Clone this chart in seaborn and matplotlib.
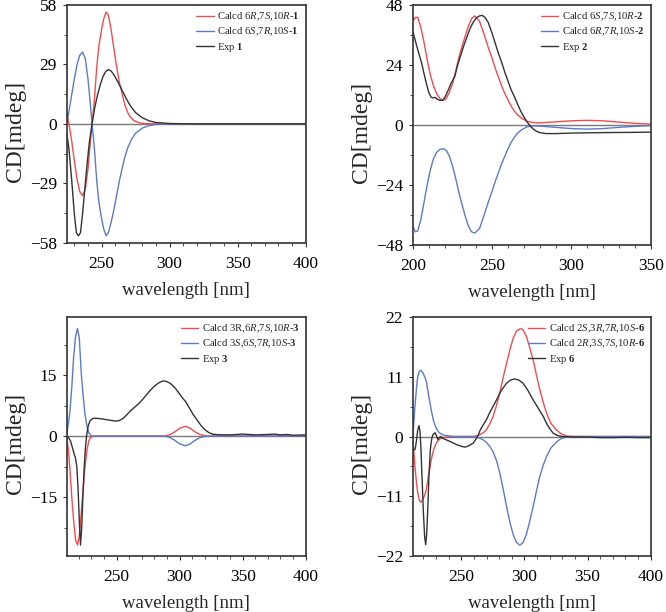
import matplotlib
matplotlib.use("Agg")
import matplotlib.pyplot as plt
import seaborn as sns
from matplotlib.ticker import MultipleLocator

# ---- panel 1 ----
p1_red_x = [224.3, 226, 228, 230, 232, 234, 236, 238, 240, 242, 243, 244.5, 246.5, 248, 250, 251.5, 253.3,
            255, 257, 259, 261, 263, 265, 267, 269, 271, 274, 278, 282, 300, 350, 400]
p1_red_y = [6, 0, -8, -18, -27, -33, -35, -32, -22, -7, 0, 10, 28, 38, 46, 51, 54.5,
            53, 46, 37, 28, 20.5, 15, 9.5, 5.8, 3.4, 1.5, 0.5, 0.1, 0, 0, 0]
p1_blue_x = [224.3, 226, 228, 230, 232, 234, 236, 238, 240, 242, 243, 244.5, 246.5, 248, 250, 251.5, 253.3,
             255, 257, 259, 261, 263, 265, 267, 269, 272, 275, 280, 285, 290, 300, 350, 400]
p1_blue_y = [0, 6, 14, 22, 29, 33.5, 35, 32, 22, 8, 0, -10, -28, -38, -46, -51, -54.5,
             -53, -48, -42, -35, -28, -22, -16.5, -12, -7.5, -4.5, -2, -0.8, -0.3, 0, 0, 0]
p1_exp_x = [224.3, 226, 228, 230, 231.5, 233, 234.5, 236, 237.5, 239, 241, 243, 245, 247, 249, 251, 253, 255,
            257, 259, 262, 265, 268, 271, 275, 280, 285, 290, 300, 320, 350, 400]
p1_exp_y = [-4, -12, -27, -44, -53, -54.5, -53, -44, -33, -22, -9, 0, 8, 14, 19, 23, 25.5, 26.5,
            25.8, 24, 20.5, 16.5, 12.5, 9, 5.5, 3, 1.5, 0.7, 0.2, 0, 0, 0]

# ---- panel 2 ----
p2_red_x = [200, 201.5, 203, 205, 207, 209, 211, 213, 215, 217, 219, 221, 223, 225, 227, 229, 231, 233, 235,
            237, 239, 242, 245, 247.5, 250, 252, 254, 256, 258, 260, 262, 264, 266, 268.5, 272, 276, 280,
            290, 300, 310, 320, 330, 340, 350]
p2_red_y = [41.5, 43, 43, 39, 33, 26, 20, 15.5, 12.5, 10.5, 9.7, 10.5, 13, 16.5, 21.5, 27, 31.5, 35.5, 39.5,
            42.5, 43.6, 41.5, 36, 31, 26.5, 22.5, 19, 15.5, 12.5, 10, 7.5, 5.5, 4, 2.7, 1.4, 0.9, 0.8,
            1.2, 1.6, 1.8, 1.6, 1.1, 0.6, 0.3]
p2_blue_x = [200, 201.5, 203, 205, 207, 209, 211, 213, 215, 217, 219.5, 221, 223, 225, 227, 229, 231, 233, 235,
             237, 239, 242, 245, 247.5, 250, 252, 254, 256, 258, 260, 262, 264, 266, 268.5, 272, 276, 280,
             290, 300, 310, 320, 330, 340, 350]
p2_blue_y = [-40.5, -42.8, -42.5, -38, -31, -24, -18, -13.5, -11, -9.8, -9.6, -10.2, -12.5, -16.5, -21.5, -27,
             -32, -36.5, -40.5, -42.8, -43.3, -41.5, -36, -31, -26.5, -22.5, -19, -15.5, -12.5, -9.5, -7, -5,
             -3.3, -2, -0.8, -0.4, -0.5, -1, -1.5, -1.7, -1.5, -1, -0.6, -0.3]
p2_exp_x = [200, 202, 204, 205.5, 207, 208.5, 210, 211.5, 213, 214, 215.5, 217, 218.5, 220, 222, 224, 226.5,
            228, 230, 232, 234, 236, 238, 240, 242, 243.7, 245.5, 247.5, 250, 252, 254, 256, 258, 260, 262,
            264, 266, 268, 270, 272, 274, 276, 278, 280, 284, 290, 300, 320, 340, 350]
p2_exp_y = [37.3, 32.5, 28, 24.7, 20.5, 16.5, 13, 11, 10.8, 11, 10.2, 9.8, 9.8, 10.8, 13.5, 16.5, 19.5,
            23.5, 27.5, 31.5, 35, 38.5, 41, 42.8, 43.6, 43.8, 43, 41, 36.5, 32.5, 28.5, 25, 21, 17.5, 14,
            11.3, 8.3, 5.5, 3.2, 1.2, -0.5, -1.7, -2.6, -3.1, -3.5, -3.5, -3.3, -3.1, -3.0, -2.9]

# ---- panel 3 ----
p3_red_x = [210.4, 212, 213, 214.5, 216, 217.5, 219, 220.5, 222, 223.5, 225, 226.5, 228, 229.5, 232,
            288, 292, 296, 300, 304.5, 308, 312, 316, 320, 324, 350, 400]
p3_red_y = [0, -4, -8, -15, -21, -25.5, -26.8, -24.5, -19, -13, -7.5, -3.5, -1.2, -0.3, 0,
            0, 0.3, 1, 1.9, 2.4, 2, 1.1, 0.4, 0.1, 0, 0, 0]
p3_blue_x = [210.4, 212, 213, 214.5, 216, 217.5, 219, 220.5, 222, 223.5, 225, 226.5, 228, 230, 232,
             288, 292, 296, 300, 304.5, 308, 312, 316, 320, 324, 350, 400]
p3_blue_y = [0.2, 3.5, 6, 12, 19.5, 24.5, 26.5, 24, 15.5, 10, 5.3, 2.5, 0.8, 0.1, 0,
             0, -0.3, -1, -1.9, -2.4, -2, -1.1, -0.4, -0.1, 0, 0, 0]
p3_exp_x = [210.4, 212, 213.5, 215, 216.5, 217.5, 218.5, 219.5, 220.5, 221.4, 222.3, 223.3, 224.3, 225.3,
            226.2, 227.5, 229, 231, 233, 237, 241, 245, 249, 252, 255, 258, 261, 264, 268, 272, 276, 280,
            284, 287, 290, 293, 296, 299, 302, 305, 308, 311, 314, 317, 320, 323, 326, 330, 340, 350, 360,
            370, 375, 380, 385, 390, 400]
p3_exp_y = [0, -0.4, -1.2, -2.8, -4.5, -5.5, -7.5, -13, -21, -26.8, -23, -15, -8, -3, 0, 2.5, 3.8, 4.3, 4.4,
            4.3, 4.1, 3.9, 3.7, 3.8, 4.3, 5.2, 6.2, 7, 8.1, 9.5, 11, 12.3, 13.2, 13.6, 13.4, 12.9, 12, 10.8,
            9.5, 8.4, 6.8, 5.2, 3.9, 2.6, 1.6, 0.9, 0.5, 0.35, 0.3, 0.5, 0.3, 0.4, 0.5, 0.3, 0.4, 0.2, 0.3]

# ---- panel 4 ----
p4_red_x = [211.7, 212.5, 213.3, 214.5, 215.5, 216.8, 218, 219.5, 221, 222.3, 224, 226.2, 228, 230.2, 232.5,
            235.5, 240, 245, 260, 264.6, 268, 270, 272.5, 275.2, 278, 280.5, 283, 285.8, 288.5, 291, 293.7,
            296.9, 299, 301.6, 304.3, 307, 309.6, 312.2, 315, 317.5, 321, 325.4, 329, 333, 340, 400]
p4_red_y = [-0.9, -3, -5.5, -8.5, -10.3, -11.7, -12.1, -11.6, -10.8, -9.8, -7.3, -4.3, -2.5, -1.2, -0.5,
            -0.2, -0.05, 0, 0, 0.3, 0.8, 1.3, 2.3, 3.7, 5.8, 8, 10.7, 13.4, 16, 18, 19.4,
            19.9, 19.6, 18.4, 16.3, 14, 11.2, 8.6, 6.2, 4.3, 2.4, 1.2, 0.5, 0.1, 0, 0]
p4_blue_x = [211.7, 212.5, 213.3, 214.5, 215.5, 216.8, 218, 219.5, 221, 222.3, 224, 226.2, 228, 230.2, 232.5,
             235.5, 240, 245, 260, 264.6, 268, 270, 272.5, 275.2, 278, 280.5, 283, 285.8, 288.5, 291, 293.7,
             296.4, 299, 301.6, 304.3, 307, 309.6, 312.2, 315, 317.5, 321, 325.4, 329, 333, 340, 400]
p4_blue_y = [0, 2.8, 5.5, 8.8, 11, 12, 12.2, 11.8, 11, 10.2, 7.8, 4.9, 2.9, 1.5, 0.7,
             0.3, 0.1, 0, 0, -0.3, -0.7, -1.1, -1.8, -2.8, -4.5, -6.7, -9.5, -12.8, -15.8, -18, -19.5,
             -20, -19.5, -18, -15.5, -12.8, -10, -7.3, -5.2, -3.7, -2.1, -1, -0.4, -0.1, 0, 0]
p4_exp_x = [211.7, 212.5, 213.5, 214.5, 215.5, 216.5, 217.3, 218, 219, 220, 221, 221.8, 222.6, 223.5, 224.4,
            225.5, 226.5, 227.5, 229.2, 230.5, 231.5, 232.5, 234, 235, 240, 246.4, 250, 253, 256, 259.6,
            262, 263.5, 265, 267, 269.9, 273, 277.8, 281.5, 285.8, 289, 292.4, 295.5, 299, 303, 307, 311,
            314.9, 318, 320.5, 322.8, 326, 330, 340, 350, 360, 370, 380, 390, 400]
p4_exp_y = [-2.4, -2.5, -2.3, -0.8, 1.2, 2, 1, -2, -8, -14, -18.5, -19.9, -18, -13, -7.3,
            -2.4, -0.5, 0.3, 0.7, 0.1, -0.6, -0.2, 0, -0.3, -0.8, -1.5, -1.8, -1.95, -1.7, -1.2,
            -0.3, 0.3, 1.2, 2, 3.1, 4.6, 6.7, 8.4, 9.8, 10.4, 10.6, 10.4, 9.8, 8.4, 6.7, 5.2,
            3.7, 2.2, 1.3, 0.6, 0.2, 0, -0.1, -0.1, -0.2, -0.2, -0.15, -0.2, -0.2]

RED = "#f24c4e"
BLUE = "#5a7bcb"
BLACK = "#333333"

sns.set_style("ticks")
plt.rcParams["font.family"] = ["Liberation Serif", "DejaVu Serif"]
plt.rcParams["mathtext.fontset"] = "custom"
plt.rcParams["mathtext.rm"] = "Liberation Serif"
plt.rcParams["mathtext.it"] = "Liberation Serif:italic"
plt.rcParams["mathtext.bf"] = "Liberation Serif:bold"

panels = [
    dict(pos=[0.100, 0.603, 0.359, 0.389], xlim=(224.3, 400), ylim=(-58, 58), ymaj=29, xmaj=50,
         series=[(p1_red_x, p1_red_y, RED, r"Calcd 6$\mathit{R}$,7$\mathit{S}$,10$\mathit{R}$-$\mathbf{1}$"),
                 (p1_blue_x, p1_blue_y, BLUE, r"Calcd 6$\mathit{S}$,7$\mathit{R}$,10$\mathit{S}$-$\mathbf{1}$"),
                 (p1_exp_x, p1_exp_y, BLACK, r"Exp $\mathbf{1}$")]),
    dict(pos=[0.620, 0.600, 0.357, 0.392], xlim=(200, 350), ylim=(-48, 48), ymaj=24, xmaj=50,
         series=[(p2_red_x, p2_red_y, RED, r"Calcd 6$\mathit{S}$,7$\mathit{S}$,10$\mathit{R}$-$\mathbf{2}$"),
                 (p2_blue_x, p2_blue_y, BLUE, r"Calcd 6$\mathit{R}$,7$\mathit{R}$,10$\mathit{S}$-$\mathbf{2}$"),
                 (p2_exp_x, p2_exp_y, BLACK, r"Exp $\mathbf{2}$")]),
    dict(pos=[0.100, 0.0915, 0.359, 0.3905], xlim=(210.4, 400), ylim=(-29.5, 29.3), ymaj=15, xmaj=50,
         series=[(p3_red_x, p3_red_y, RED, r"Calcd 3R,6$\mathit{R}$,7$\mathit{S}$,10$\mathit{R}$-$\mathbf{3}$"),
                 (p3_blue_x, p3_blue_y, BLUE, r"Calcd 3$\mathit{S}$,6$\mathit{S}$,7$\mathit{R}$,10$\mathit{S}$-$\mathbf{3}$"),
                 (p3_exp_x, p3_exp_y, BLACK, r"Exp $\mathbf{3}$")]),
    dict(pos=[0.620, 0.0915, 0.357, 0.3905], xlim=(211.7, 400), ylim=(-22, 22), ymaj=11, xmaj=50,
         series=[(p4_red_x, p4_red_y, RED, r"Calcd 2$\mathit{S}$,3$\mathit{R}$,7$\mathit{R}$,10$\mathit{S}$-$\mathbf{6}$"),
                 (p4_blue_x, p4_blue_y, BLUE, r"Calcd 2$\mathit{R}$,3$\mathit{S}$,7$\mathit{S}$,10$\mathit{R}$-$\mathbf{6}$"),
                 (p4_exp_x, p4_exp_y, BLACK, r"Exp $\mathbf{6}$")]),
]

fig = plt.figure(figsize=(6.66, 6.12), dpi=100)

for p in panels:
    ax = fig.add_axes(p["pos"])
    ax.axhline(0, color="#7a7a7a", linewidth=1.0, zorder=0.8)
    for xs, ys, col, lab in p["series"]:
        sns.lineplot(x=xs, y=ys, ax=ax, color=col, linewidth=1.0, label=lab,
                     estimator=None, sort=False)
    ax.set_xlim(*p["xlim"])
    ax.set_ylim(*p["ylim"])
    ax.xaxis.set_major_locator(MultipleLocator(p["xmaj"]))
    ax.xaxis.set_minor_locator(MultipleLocator(10))
    ax.yaxis.set_major_locator(MultipleLocator(p["ymaj"]))
    ax.yaxis.set_minor_locator(MultipleLocator(p["ymaj"] / 2))
    ax.tick_params(which="major", direction="out", length=3, width=0.8, colors="#333333",
                   labelsize=12.5, labelcolor="black")
    ax.tick_params(axis="x", which="major", pad=6.5)
    ax.tick_params(axis="y", which="major", pad=4)
    ax.tick_params(which="minor", direction="out", length=2, width=0.6, colors="#333333")
    for s in ax.spines.values():
        s.set_visible(True)
        s.set_color("#333333")
        s.set_linewidth(1.2)
    ax.set_xlabel("wavelength [nm]", fontsize=13.5, labelpad=7)
    ax.set_ylabel("CD[mdeg]", fontsize=17, labelpad=3)
    ax.yaxis.label.set_y(0.47)
    ax.legend(loc="upper right", frameon=False, fontsize=7.7, handlelength=1.6, handletextpad=0.35,
              labelspacing=0.25, borderaxespad=0.15, borderpad=0.4)

fig.savefig("out.png", dpi=100)
